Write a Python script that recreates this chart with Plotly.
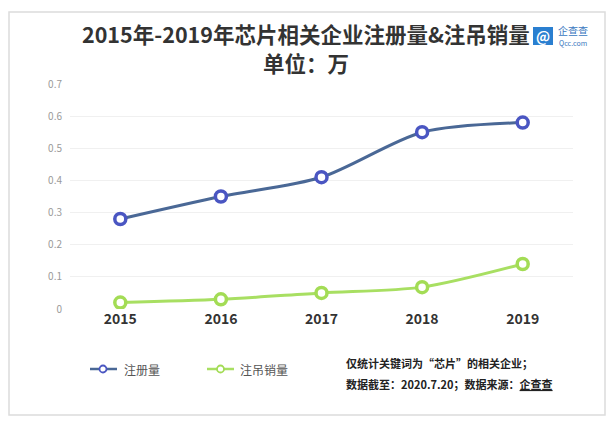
import plotly.graph_objects as go

years = ["2015", "2016", "2017", "2018", "2019"]
registered = [0.28, 0.35, 0.41, 0.55, 0.58]
cancelled = [0.02, 0.03, 0.05, 0.068, 0.14]
y_ticks = [0, 0.1, 0.2, 0.3, 0.4, 0.5, 0.6, 0.7]
y_tick_labels = ["0", "0.1", "0.2", "0.3", "0.4", "0.5", "0.6", "0.7"]
series_names = ["注册量", "注吊销量"]

FONT = "Noto Sans CJK SC"
W, H = 613, 429
L, R, T, B = 70, 40, 84, 120
plot_top, plot_bot = T, H - B

BLUE_LINE, BLUE_MARK = "#4a6896", "#4a56c2"
GREEN_LINE, GREEN_MARK = "#a8df62", "#a3dc55"


def px_x(v):
    return (v - L) / (W - L - R)


def px_y(v):
    return (plot_bot - v) / (plot_bot - plot_top)


fig = go.Figure()
fig.add_trace(go.Scatter(
    x=years, y=registered, name=series_names[0], mode="lines+markers",
    line=dict(color=BLUE_LINE, width=3, shape="spline", smoothing=0.8),
    marker=dict(symbol="circle", size=11, color="white",
                line=dict(color=BLUE_MARK, width=3.5)),
))
fig.add_trace(go.Scatter(
    x=years, y=cancelled, name=series_names[1], mode="lines+markers",
    line=dict(color=GREEN_LINE, width=3, shape="spline", smoothing=0.8),
    marker=dict(symbol="circle", size=11, color="white",
                line=dict(color=GREEN_MARK, width=3.5)),
))

fig.update_layout(
    width=W, height=H,
    margin=dict(l=L, r=R, t=T, b=B),
    paper_bgcolor="white", plot_bgcolor="white",
    font=dict(family=FONT, color="#333"),
    showlegend=False,
    xaxis=dict(type="category", range=[-0.5, 4.5], showgrid=False, zeroline=False,
               showline=False, ticks="",
               tickfont=dict(size=14, color="#333", family=FONT, weight="bold"),
               ticklabelstandoff=0),
    yaxis=dict(range=[0, 0.7], tickvals=y_ticks, ticktext=y_tick_labels,
               showgrid=True, gridcolor="#f0f0f0", gridwidth=1, zeroline=False,
               showline=False, ticks="", tickfont=dict(size=10, color="#9a9a9a"),
               ticklabelstandoff=7),
)

# annotations given in pixel coordinates, converted to paper
ann_px = [
    dict(text="<b>2015年-2019年芯片相关企业注册量&注吊销量</b>", x=305.5, y=34, xanchor="center", font=dict(size=21.5, color="#333")),
    dict(text="<b>单位：万</b>", x=305.5, y=62, xanchor="center", font=dict(size=21.5, color="#333")),
    dict(text="<b>仅统计关键词为“芯片”的相关企业；</b>", x=344, y=363, xanchor="left", font=dict(size=11, color="#222")),
    dict(text="<b>数据截至：2020.7.20；数据来源：<u>企查查</u></b>", x=344, y=384, xanchor="left", font=dict(size=11, color="#222")),
    dict(text="企查查", x=556, y=30, xanchor="left", font=dict(size=10, color="#3a78c0")),
    dict(text="Qcc.com", x=557, y=43, xanchor="left", font=dict(size=7, color="#3a78c0")),
    dict(text="<b>@</b>", x=543, y=36, xanchor="center", font=dict(size=14, color="white")),
    dict(text=series_names[0], x=122, y=369, xanchor="left", font=dict(size=12, color="#555")),
    dict(text=series_names[1], x=238, y=369, xanchor="left", font=dict(size=12, color="#555")),
]
annotations = []
for a in ann_px:
    a = dict(a)
    a["x"] = px_x(a["x"])
    a["y"] = px_y(a["y"])
    a.update(xref="paper", yref="paper", yanchor="middle", showarrow=False)
    annotations.append(a)
fig.update_layout(annotations=annotations)

shapes = [
    # outer frame
    dict(type="rect", x0=9, x1=605, y0=12, y1=415, line=dict(color="#dcdcdc", width=1.5),
         fillcolor="rgba(0,0,0,0)", layer="below"),
    # logo icon
    dict(type="rect", x0=533, x1=553, y0=27, y1=45, line=dict(width=0), fillcolor="#2a7fd0", layer="below"),
    # legend samples
    dict(type="line", x0=90, x1=117, y0=369, y1=369, line=dict(color=BLUE_LINE, width=2.5)),
    dict(type="circle", x0=99.5, x1=106.5, y0=365.5, y1=372.5, line=dict(color=BLUE_MARK, width=1.8), fillcolor="white"),
    dict(type="line", x0=207, x1=234, y0=369, y1=369, line=dict(color=GREEN_LINE, width=2.5)),
    dict(type="circle", x0=217, x1=224, y0=365.5, y1=372.5, line=dict(color=GREEN_MARK, width=1.8), fillcolor="white"),
]
for s in shapes:
    s["x0"], s["x1"] = px_x(s["x0"]), px_x(s["x1"])
    s["y0"], s["y1"] = px_y(s["y0"]), px_y(s["y1"])
    s.update(xref="paper", yref="paper")
    fig.add_shape(**s)

fig.write_html("out.html", config={"displayModeBar": False},
               post_script="document.body.style.margin='0';")
